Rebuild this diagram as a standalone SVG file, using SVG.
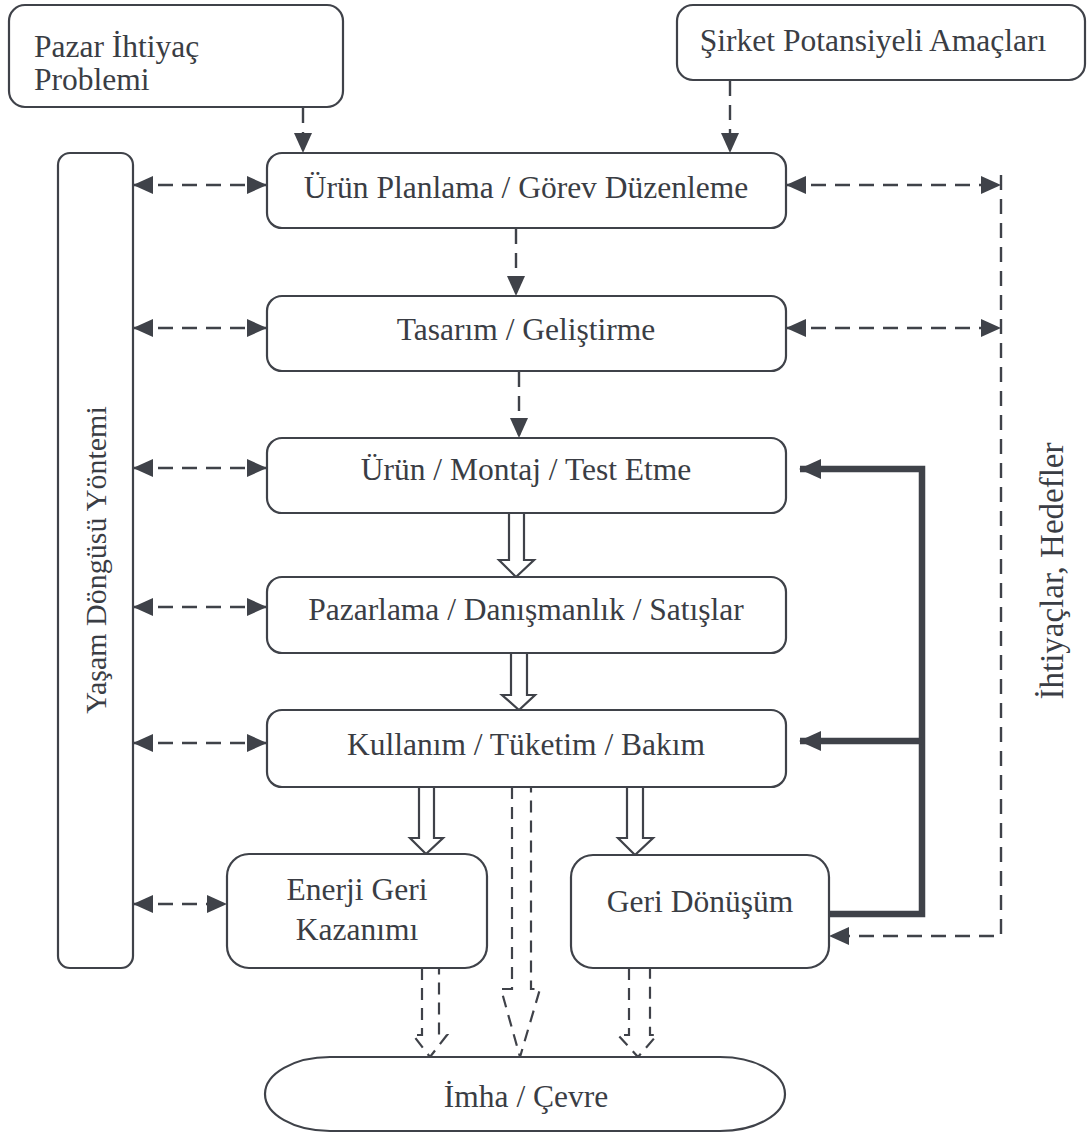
<svg xmlns="http://www.w3.org/2000/svg" width="1087" height="1133" viewBox="0 0 1087 1133" font-family="'Liberation Serif', 'Times New Roman', serif">
<defs>
<style>
.box{fill:#fff;stroke:#3f4249;stroke-width:2.2}
.t{font-family:'Liberation Serif','Times New Roman',serif;font-size:31.5px;fill:#3a3d44}
.m{text-anchor:middle}
.dash{fill:none;stroke:#3f4249;stroke-width:2.4;stroke-dasharray:15 9}
.thick{fill:none;stroke:#3f4249;stroke-width:6.5}
.hollow{fill:#fff;stroke:#3f4249;stroke-width:2.2;stroke-linejoin:miter}
.hd{fill:none;stroke:#3f4249;stroke-width:2.2;stroke-dasharray:12 8}
</style>
<marker id="ah" viewBox="0 0 20 18" refX="19" refY="9" markerWidth="20" markerHeight="18" markerUnits="userSpaceOnUse" orient="auto-start-reverse">
<path d="M0,0 L20,9 L0,18 Z" fill="#3f4249"/>
</marker>
<marker id="ahb" viewBox="0 0 22 20" refX="21" refY="10" markerWidth="22" markerHeight="20" markerUnits="userSpaceOnUse" orient="auto">
<path d="M0,0 L22,10 L0,20 Z" fill="#3f4249"/>
</marker>
</defs>
<rect width="1087" height="1133" fill="#fff"/>

<g id="connectors">
<line class="dash" x1="303" y1="108" x2="303" y2="152" marker-end="url(#ah)"/>
<line class="dash" x1="730" y1="81" x2="730" y2="152" marker-end="url(#ah)"/>
<line class="dash" x1="516" y1="229" x2="516" y2="295" marker-end="url(#ah)"/>
<line class="dash" x1="519" y1="372" x2="519" y2="437" marker-end="url(#ah)"/>
<line class="dash" x1="134" y1="185" x2="266" y2="185" marker-start="url(#ah)" marker-end="url(#ah)"/>
<line class="dash" x1="134" y1="328" x2="266" y2="328" marker-start="url(#ah)" marker-end="url(#ah)"/>
<line class="dash" x1="134" y1="468" x2="266" y2="468" marker-start="url(#ah)" marker-end="url(#ah)"/>
<line class="dash" x1="134" y1="607" x2="266" y2="607" marker-start="url(#ah)" marker-end="url(#ah)"/>
<line class="dash" x1="134" y1="743" x2="266" y2="743" marker-start="url(#ah)" marker-end="url(#ah)"/>
<line class="dash" x1="134" y1="904" x2="226" y2="904" marker-start="url(#ah)" marker-end="url(#ah)"/>
<line class="dash" x1="787" y1="185" x2="1000" y2="185" marker-start="url(#ah)" marker-end="url(#ah)"/>
<line class="dash" x1="787" y1="328" x2="1000" y2="328" marker-start="url(#ah)" marker-end="url(#ah)"/>
<path class="dash" d="M1001,175 V936 H830" marker-end="url(#ah)"/>
<path class="thick" d="M829,914 H922 V469 H800" marker-end="url(#ahb)"/>
<path class="thick" d="M922,741 H800" marker-end="url(#ahb)"/>
<path class="hollow" d="M509,513 V560 H499 L516,577 L534,560 H524 V513"/>
<path class="hollow" d="M511,653 V695 H502 L519,710 L535,695 H527 V653"/>
<path class="hollow" d="M419,787 V838 H410 L426,854 L443,838 H434 V787"/>
<path class="hollow" d="M627,787 V838 H618 L635,855 L653,838 H643 V787"/>
<path class="hd" d="M422,968 V1035 H413 L430,1057 L447,1035 H439 V968"/>
<path class="hd" d="M512,787 V989 H501 L520,1057 L540,989 H531 V787"/>
<path class="hd" d="M629,968 V1035 H618 L638,1057 L657,1035 H650 V968"/>
</g>

<g id="pazar">
<rect class="box" x="9" y="5" width="334" height="102" rx="16"/>
<text class="t" x="34" y="57">Pazar İhtiyaç</text>
<text class="t" x="34" y="90">Problemi</text>
</g>
<g id="sirket">
<rect class="box" x="677" y="5" width="408" height="75" rx="16"/>
<text class="t m" x="873" y="51">Şirket Potansiyeli Amaçları</text>
</g>
<g id="yasam">
<rect class="box" x="58" y="153" width="75" height="815" rx="12"/>
<text class="t m" style="font-size:30px" transform="translate(106,560) rotate(-90)">Yaşam Döngüsü Yöntemi</text>
</g>
<g id="planlama">
<rect class="box" x="267" y="153" width="519" height="75" rx="15"/>
<text class="t m" x="526" y="198">Ürün Planlama / Görev Düzenleme</text>
</g>
<g id="tasarim">
<rect class="box" x="267" y="296" width="519" height="75" rx="15"/>
<text class="t m" x="526" y="340">Tasarım / Geliştirme</text>
</g>
<g id="montaj">
<rect class="box" x="267" y="438" width="519" height="75" rx="15"/>
<text class="t m" x="526" y="480">Ürün / Montaj / Test Etme</text>
</g>
<g id="pazarlama">
<rect class="box" x="267" y="577" width="519" height="76" rx="15"/>
<text class="t m" x="526" y="620">Pazarlama / Danışmanlık / Satışlar</text>
</g>
<g id="kullanim">
<rect class="box" x="267" y="710" width="519" height="77" rx="15"/>
<text class="t m" x="526" y="755">Kullanım / Tüketim / Bakım</text>
</g>
<g id="enerji">
<rect class="box" x="227" y="854" width="260" height="114" rx="22"/>
<text class="t m" x="357" y="900">Enerji Geri</text>
<text class="t m" x="357" y="940">Kazanımı</text>
</g>
<g id="geri">
<rect class="box" x="571" y="855" width="258" height="113" rx="22"/>
<text class="t m" x="700" y="912">Geri Dönüşüm</text>
</g>
<g id="imha">
<path class="box" d="M330,1057 H720 A65,37 0 0 1 720,1131 H330 A65,37 0 0 1 330,1057 Z"/>
<text class="t m" x="526" y="1107">İmha / Çevre</text>
</g>
<g id="ihtiyaclar">
<text class="t m" style="font-size:33px" transform="translate(1063,571) rotate(-90)">İhtiyaçlar, Hedefler</text>
</g>
</svg>
